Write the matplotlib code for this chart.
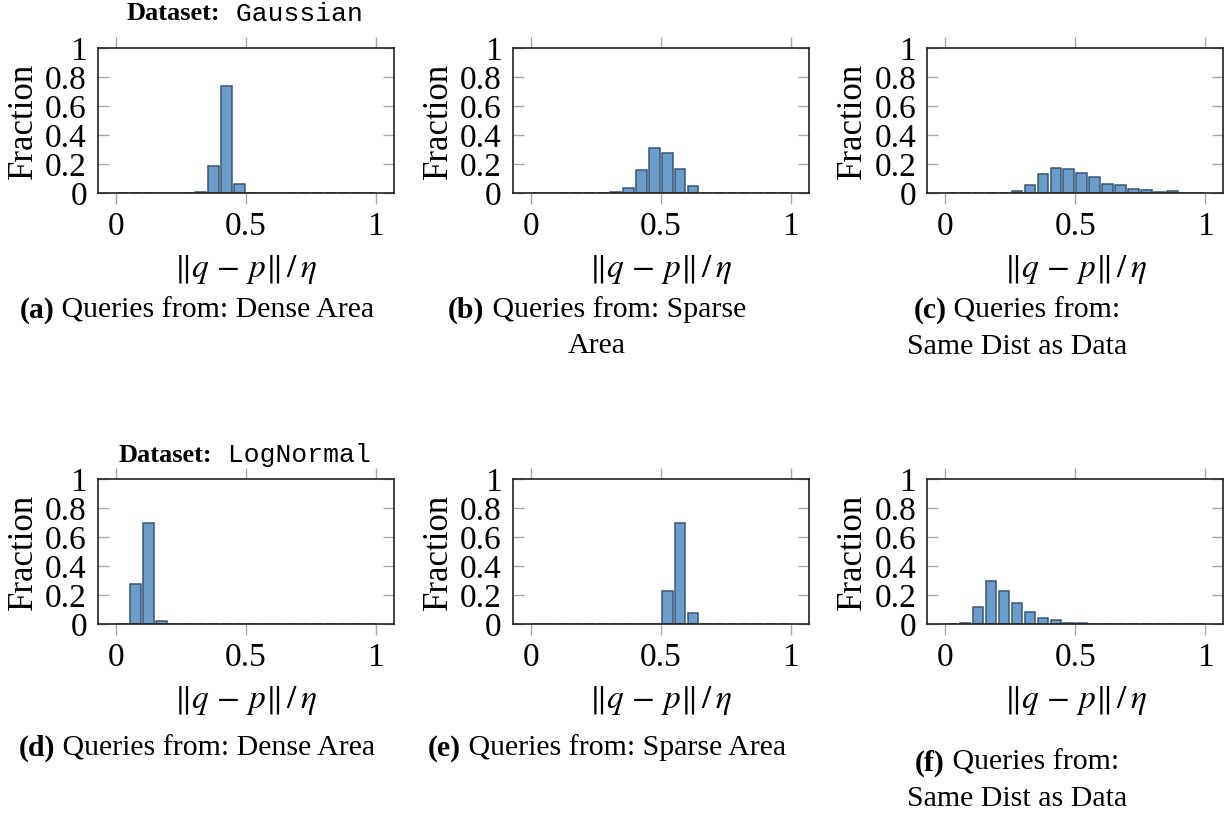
import matplotlib
matplotlib.use("Agg")
import matplotlib.pyplot as plt
import matplotlib.transforms as mtransforms

# ---------------- data ----------------
bin_centers = [0.025, 0.075, 0.125, 0.175, 0.225, 0.275, 0.325, 0.375, 0.425, 0.475,
               0.525, 0.575, 0.625, 0.675, 0.725, 0.775, 0.825, 0.875, 0.925, 0.975]

gauss_dense = [0, 0, 0, 0, 0, 0, 0.012, 0.19, 0.737, 0.062,
               0, 0, 0, 0, 0, 0, 0, 0, 0, 0]
gauss_sparse = [0, 0, 0, 0, 0, 0, 0.008, 0.037, 0.161, 0.309,
                0.276, 0.166, 0.048, 0.004, 0, 0, 0, 0, 0, 0]
gauss_same = [0, 0, 0, 0, 0.003, 0.016, 0.057, 0.133, 0.177, 0.17,
              0.138, 0.115, 0.067, 0.06, 0.032, 0.025, 0.009, 0.018, 0.004, 0.001]
lognorm_dense = [0.002, 0.278, 0.70, 0.021, 0, 0, 0, 0, 0, 0,
                 0, 0, 0, 0, 0, 0, 0, 0, 0, 0]
lognorm_sparse = [0, 0, 0, 0, 0, 0, 0, 0, 0, 0,
                  0.228, 0.70, 0.076, 0, 0, 0, 0, 0, 0, 0]
lognorm_same = [0, 0.007, 0.117, 0.299, 0.228, 0.149, 0.087, 0.043, 0.03, 0.012,
                0.01, 0.004, 0.004, 0.003, 0.003, 0.004, 0.003, 0.002, 0.001, 0.001]

panel_series = [gauss_dense, gauss_sparse, gauss_same,
                lognorm_dense, lognorm_sparse, lognorm_same]
panel_letters = ["(a)", "(b)", "(c)", "(d)", "(e)", "(f)"]
panel_captions = [
    [" Queries from: Dense Area"],
    [" Queries from: Sparse", "Area"],
    [" Queries from:", "Same Dist as Data"],
    [" Queries from: Dense Area"],
    [" Queries from: Sparse Area"],
    [" Queries from:", "Same Dist as Data"],
]
dataset_names = ["Gaussian", "LogNormal"]
x_ticks = [0, 0.5, 1]
x_ticklabels = ["0", "0.5", "1"]
y_ticks = [0, 0.2, 0.4, 0.6, 0.8, 1]
y_ticklabels = ["0", "0.2", "0.4", "0.6", "0.8", "1"]

# ---------------- style ----------------
plt.rcParams["font.family"] = "serif"
plt.rcParams["font.serif"] = ["Liberation Serif", "DejaVu Serif"]
plt.rcParams["mathtext.fontset"] = "stix"

W, H = 1229, 814
fig = plt.figure(figsize=(W / 100, H / 100), dpi=100)

FILL = "#6b9dcb"
EDGE = "#3a5675"
TICKC = "#a8a8a8"
FS_TICK = 24
FS_LABEL = 25
FS_XLABEL = 24
FS_CAP = 21.5
FS_TITLE = 19

col_left_px = [98, 512.7, 927.3]
ax_w_px = 296
row_top_px = [48.3, 479.3]
ax_h_px = 145

caption_cx = [197, 597, 1017, 197, 607, 1017]
caption_y1 = [310, 310, 311, 748, 748, 763]
caption_dy = 36
title_y = [14, 455]

ident = mtransforms.IdentityTransform()


def rich_line(x_px, y_px, pieces, size):
    """Draw a line of text made of (string, weight, family) pieces, centred at x_px."""
    renderer = fig.canvas.get_renderer()
    texts = []
    widths = []
    for s, weight, family in pieces:
        t = fig.text(0, 0, s, fontsize=size, fontweight=weight, family=family,
                     ha="left", va="center", transform=ident)
        bb = t.get_window_extent(renderer=renderer)
        texts.append(t)
        widths.append(bb.width)
    total = sum(widths)
    x = x_px - total / 2
    for t, w in zip(texts, widths):
        t.set_position((x, H - y_px))
        x += w


for i, vals in enumerate(panel_series):
    r, c = divmod(i, 3)
    left = col_left_px[c] / W
    bottom = (H - row_top_px[r] - ax_h_px) / H
    ax = fig.add_axes([left, bottom, ax_w_px / W, ax_h_px / H])
    ax.bar(bin_centers, vals, width=0.041, color=FILL, edgecolor=EDGE,
           linewidth=1.1, zorder=2)
    ax.set_xlim(-0.07, 1.07)
    ax.set_ylim(0, 1)
    ax.set_xticks(x_ticks)
    ax.set_xticklabels(x_ticklabels)
    ax.set_yticks(y_ticks)
    ax.set_yticklabels(y_ticklabels)
    ax.tick_params(axis="x", direction="out", length=8, width=1.0, color=TICKC,
                   top=True, bottom=True, labelsize=FS_TICK, pad=5)
    ax.tick_params(axis="y", direction="in", length=8, width=1.0, color=TICKC,
                   left=True, right=True, labelsize=FS_TICK, pad=8)
    for sp in ax.spines.values():
        sp.set_linewidth(1.2)
        sp.set_color("#222222")
    ax.set_ylabel("Fraction", fontsize=FS_LABEL)
    ax.yaxis.set_label_coords(-58 / ax_w_px, 0.5)
    ax.set_xlabel(r"$\|q\,-\,p\|\,/\,\eta$", fontsize=FS_XLABEL, va="top")
    ax.xaxis.set_label_coords(0.5, -0.41)

    # caption
    lines = panel_captions[i]
    rich_line(caption_cx[i], caption_y1[i],
              [(panel_letters[i], "bold", "serif"), (lines[0], "normal", "serif")], FS_CAP)
    for k, extra in enumerate(lines[1:], start=1):
        rich_line(caption_cx[i], caption_y1[i] + caption_dy * k,
                  [(extra, "normal", "serif")], FS_CAP)

# dataset titles
for r, name in enumerate(dataset_names):
    rich_line(245, title_y[r],
              [("Dataset:", "bold", "serif"), (" " + name, "normal", "Liberation Mono")], FS_TITLE)

fig.savefig("out.png", dpi=100)
